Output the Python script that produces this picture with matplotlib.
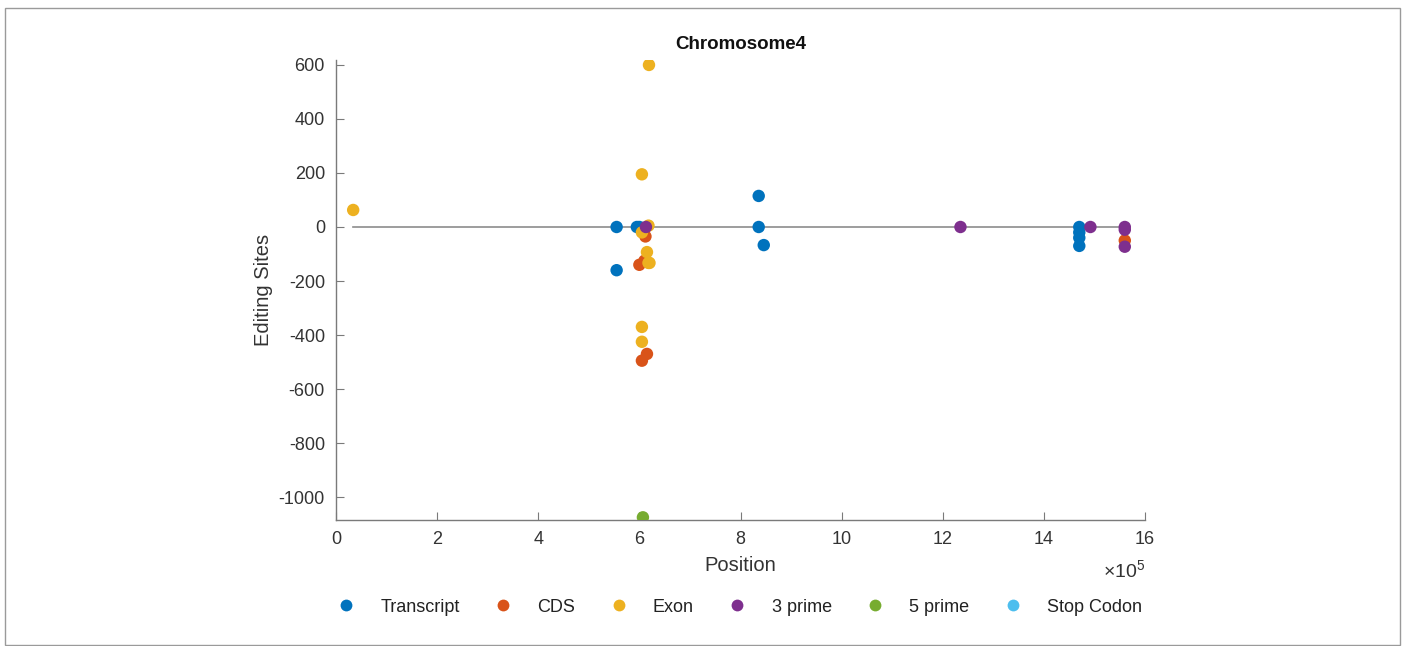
import matplotlib
matplotlib.use("Agg")
import matplotlib.pyplot as plt
from matplotlib.lines import Line2D
from matplotlib.patches import Rectangle

plt.rcParams['font.family'] = ['Liberation Sans', 'DejaVu Sans']
plt.rcParams['mathtext.fontset'] = 'custom'
plt.rcParams['mathtext.rm'] = 'Liberation Sans'
plt.rcParams['mathtext.it'] = 'Liberation Sans'

# ---- data (positions in units of 1e5) ----
transcript_x = [5.55, 5.55, 5.95, 6.00, 8.36, 8.36, 8.46, 14.70, 14.70, 14.70, 14.70]
transcript_y = [0, -160, 0, 0, 115, 0, -67, 0, -20, -40, -70]

cds_x = [6.00, 6.10, 6.12, 6.08, 6.05, 6.15, 15.60]
cds_y = [-140, -125, -35, -20, -495, -470, -50]

exon_x = [0.34, 6.19, 6.05, 6.18, 6.05, 6.15, 6.18, 6.20, 6.05, 6.05]
exon_y = [63, 600, 195, 5, -20, -93, -133, -133, -370, -425]

prime3_x = [6.13, 12.35, 14.92, 15.60, 15.60, 15.60]
prime3_y = [0, 0, 0, 0, -10, -73]

prime5_x = [6.07]
prime5_y = [-1075]

stop_x = []
stop_y = []

series_names = ['Transcript', 'CDS', 'Exon', '3 prime', '5 prime', 'Stop Codon']
series_x = [transcript_x, cds_x, exon_x, prime3_x, prime5_x, stop_x]
series_y = [transcript_y, cds_y, exon_y, prime3_y, prime5_y, stop_y]
colors = ['#0072BD', '#D95319', '#EDB120', '#7E2F8E', '#77AC30', '#4DBEEE']

xticks = [0, 2, 4, 6, 8, 10, 12, 14, 16]
yticks = [600, 400, 200, 0, -200, -400, -600, -800, -1000]
scale = 1e5

fig = plt.figure(figsize=(14.07, 6.46), dpi=100)
ax = fig.add_axes([0.2388, 0.195, 0.575, 0.712])

# baseline at zero spanning data range
all_x = [v for s in series_x for v in s]
ax.plot([min(all_x) * scale, max(all_x) * scale], [0, 0], color='#8c8c8c', lw=1.2, zorder=1)

for xs, ys, c, n in zip(series_x, series_y, colors, series_names):
    ax.scatter([v * scale for v in xs], ys, s=80, color=c, edgecolors='none', zorder=3, label=n)

ax.set_xlim(0, 16 * scale)
ax.set_ylim(-1085, 618)
ax.set_xticks([t * scale for t in xticks])
ax.set_xticklabels([str(t) for t in xticks])
ax.set_yticks(yticks)
ax.set_yticklabels([str(t) for t in yticks])

for side in ['top', 'right']:
    ax.spines[side].set_visible(False)
for side in ['left', 'bottom']:
    ax.spines[side].set_color('#7a7a7a')
    ax.spines[side].set_linewidth(1.0)
ax.tick_params(direction='in', length=6, width=0.8, color='#7a7a7a',
               labelsize=13, labelcolor='#333333', pad=8)

ax.set_title('Chromosome4', fontsize=13.5, fontweight='bold', color='#111111', pad=8)
ax.set_xlabel('Position', fontsize=14.5, color='#333333', labelpad=6)
ax.set_ylabel('Editing Sites', fontsize=14.5, color='#333333', labelpad=4)
ax.text(1.0, -0.109, r'$\times 10^{5}$', transform=ax.transAxes, ha='right', va='center',
        fontsize=14, color='#333333')

handles = [Line2D([], [], marker='o', ls='none', color=c, markersize=8.5, markeredgewidth=0)
           for c in colors]
fig.legend(handles, series_names, loc='center', bbox_to_anchor=(0.5256, 0.06), ncol=6,
           frameon=False, fontsize=13, handlelength=1.0, handletextpad=1.4, columnspacing=1.9,
           labelcolor='#222222')

fig.patches.append(Rectangle((5 / 1407, 0.002), 1395 / 1407, 1 - 8 / 646 - 0.002,
                             transform=fig.transFigure, fill=False,
                             edgecolor='#9a9a9a', lw=1.0))

fig.savefig('out.png', dpi=100)
